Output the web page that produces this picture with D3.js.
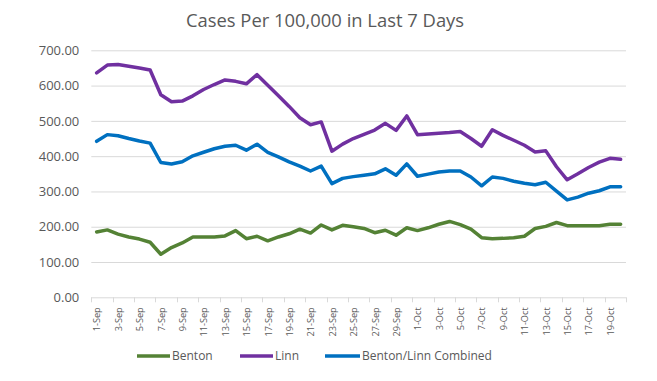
<!DOCTYPE html>
<html>
<head>
<meta charset="utf-8">
<script src="https://cdn.jsdelivr.net/npm/d3@7"></script>
<style>
  html, body { margin: 0; padding: 0; background: #fff; }
  svg { display: block; font-family: "Open Sans", sans-serif; }
</style>
</head>
<body>
<div id="chart"></div>
<script>
// ---- data ----
const dates = ["1-Sep","2-Sep","3-Sep","4-Sep","5-Sep","6-Sep","7-Sep","8-Sep","9-Sep","10-Sep",
  "11-Sep","12-Sep","13-Sep","14-Sep","15-Sep","16-Sep","17-Sep","18-Sep","19-Sep","20-Sep",
  "21-Sep","22-Sep","23-Sep","24-Sep","25-Sep","26-Sep","27-Sep","28-Sep","29-Sep","30-Sep",
  "1-Oct","2-Oct","3-Oct","4-Oct","5-Oct","6-Oct","7-Oct","8-Oct","9-Oct","10-Oct",
  "11-Oct","12-Oct","13-Oct","14-Oct","15-Oct","16-Oct","17-Oct","18-Oct","19-Oct","20-Oct"];
const benton = [185,191,179,171,165,156,122,141,154,171,171,171,174,189,166,173,160,171,180,193,
  182,205,191,204,200,195,183,190,176,197,189,197,207,215,206,193,169,166,167,169,
  173,195,201,212,203,203,203,203,207,207];
const linn = [636,658,660,655,650,644,574,554,556,571,589,603,616,612,605,631,601,571,541,509,
  489,497,414,434,450,462,474,493,473,514,461,463,465,467,470,450,428,475,459,445,
  431,412,415,370,333,350,368,383,394,391];
const combined = [442,461,458,450,443,437,382,378,384,401,411,421,428,431,417,434,411,398,384,372,
  358,372,322,337,342,346,350,364,346,378,343,349,355,358,358,341,316,341,337,329,
  323,319,326,301,276,284,295,302,313,313];
const yTicks = [0,100,200,300,400,500,600,700];
const seriesNames = ["Benton","Linn","Benton/Linn Combined"];
const titleText = "Cases Per 100,000 in Last 7 Days";

// ---- layout ----
const W = 657, H = 381;
const plot = {left: 91.3, right: 626, top: 50.3, bottom: 297.3};
const colors = ["#548235", "#7030A0", "#0070C0"];
const textColor = "#595959", gridColor = "#d9d9d9";

const svg = d3.select("#chart").append("svg").attr("width", W).attr("height", H);

const xBand = d3.scaleBand().domain(dates).range([plot.left, plot.right]).padding(0);
const x = d3.scalePoint().domain(dates).range([plot.left, plot.right]).padding(0.5);
const y = d3.scaleLinear().domain([0, 700]).range([plot.bottom, plot.top]);

// title
svg.append("text")
  .attr("x", 325).attr("y", 27)
  .attr("text-anchor", "middle")
  .attr("fill", textColor)
  .style("font-size", "18.4px")
  .text(titleText);

// gridlines
svg.append("g").selectAll("line").data(yTicks).join("line")
  .attr("x1", plot.left).attr("x2", plot.right)
  .attr("y1", d => y(d) + 0.5).attr("y2", d => y(d) + 0.5)
  .attr("stroke", gridColor).attr("stroke-width", 1);

// y axis labels
const yAxis = svg.append("g").attr("transform", `translate(${plot.left},0)`)
  .call(d3.axisLeft(y).tickValues(yTicks).tickFormat(d3.format(".2f")).tickSize(0).tickPadding(12));
yAxis.select(".domain").remove();
yAxis.selectAll("text").attr("fill", textColor).style("font-size", "13px")
  .style("font-family", "'Open Sans', sans-serif");

// x axis tick marks
const tickDates = dates.filter((d, i) => i % 2 === 0);
const tickXs = tickDates.map(d => xBand(d)).concat([plot.right]);
svg.append("g").selectAll("line").data(tickXs).join("line")
  .attr("x1", d => Math.round(d) + 0.5).attr("x2", d => Math.round(d) + 0.5)
  .attr("y1", plot.bottom).attr("y2", plot.bottom + 5)
  .attr("stroke", gridColor).attr("stroke-width", 1);

// x axis labels
const xAxis = svg.append("g").attr("transform", `translate(0,${plot.bottom})`)
  .call(d3.axisBottom(x).tickValues(tickDates).tickSize(0));
xAxis.select(".domain").remove();
xAxis.selectAll("text")
  .attr("transform", "rotate(-90)")
  .attr("x", -10).attr("y", 0).attr("dy", "0.36em")
  .attr("text-anchor", "end")
  .attr("fill", textColor)
  .style("font-size", "9.2px")
  .style("font-family", "'Open Sans', sans-serif");

// lines
const line = d3.line().x((d, i) => x(dates[i])).y(d => y(d));
[benton, linn, combined].forEach((s, k) => {
  svg.append("path").datum(s)
    .attr("d", line)
    .attr("fill", "none")
    .attr("stroke", colors[k])
    .attr("stroke-width", 3.5)
    .attr("stroke-linejoin", "round")
    .attr("stroke-linecap", "round");
});

// legend
const legendItems = [
  {x1: 137, x2: 170},
  {x1: 240, x2: 273},
  {x1: 325, x2: 360}
];
const lg = svg.append("g");
seriesNames.forEach((name, k) => {
  const it = legendItems[k];
  lg.append("line").attr("x1", it.x1).attr("x2", it.x2).attr("y1", 356).attr("y2", 356)
    .attr("stroke", colors[k]).attr("stroke-width", 3.5);
  lg.append("text").attr("x", it.x2 + 2).attr("y", 356).attr("dy", "0.35em")
    .attr("fill", textColor).style("font-size", "12px").text(name);
});
</script>
</body>
</html>
